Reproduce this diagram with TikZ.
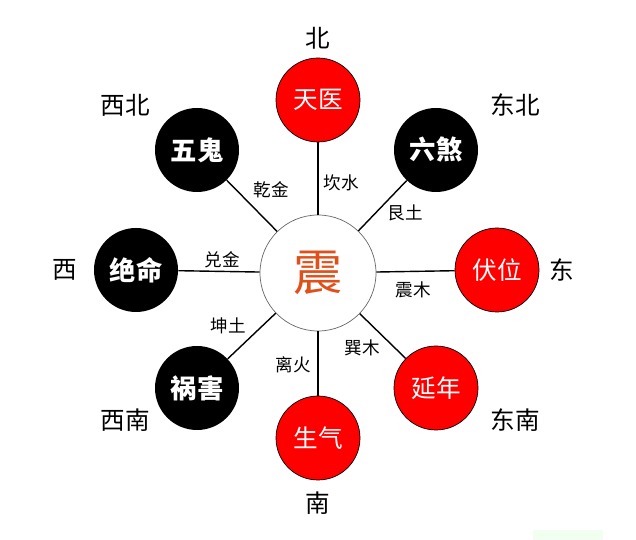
\documentclass[tikz,border=0pt]{standalone}
\usepackage{fontspec}
\newfontfamily\cjk{Noto Sans CJK SC}
\newfontfamily\cjkb{Noto Sans CJK SC Black}
\definecolor{zhenred}{HTML}{E0501A}
\definecolor{gua}{HTML}{FF0000}
\tikzset{
  redgua/.style={circle, draw=black, fill=gua, minimum size=84*0.02cm, inner sep=0pt, text=white, font=\cjk\fontsize{14}{14}\selectfont},
  blackgua/.style={circle, fill=black, minimum size=84*0.02cm, inner sep=0pt, text=white, font=\cjk\bfseries\fontsize{15}{15}\selectfont},
  dirlabel/.style={font=\cjk\fontsize{14}{14}\selectfont},
  edgelabel/.style={font=\cjk\fontsize{10}{10}\selectfont},
}
\begin{document}
\begin{tikzpicture}[x=0.02cm,y=-0.02cm]
  \useasboundingbox (0,0) rectangle (636,540);
  \fill[green!6] (533,530) rectangle (603,540);

  % centre
  \node[circle, draw=black!60, minimum size=116*0.02cm, inner sep=0pt, text=zhenred,
        font=\cjk\fontsize{28}{28}\selectfont] (zhen) at (318,273) {震};

  % the eight gua
  \node[redgua] (tianyi) at (318,100) {天医};
  \node[blackgua] (liusha) at (436,150) {六煞};
  \node[redgua] (fuwei) at (497,270) {伏位};
  \node[redgua] (yannian) at (436,388) {延年};
  \node[redgua] (shengqi) at (318,438) {生气};
  \node[blackgua] (huohai) at (197,388) {祸害};
  \node[blackgua] (jueming) at (136,270) {绝命};
  \node[blackgua] (wugui) at (197,150) {五鬼};

  \foreach \g in {tianyi,liusha,fuwei,yannian,shengqi,huohai,jueming,wugui}
    \draw[thick] (zhen) -- (\g);

  % directions
  \node[dirlabel] (bei) at (318,38) {北};
  \node[dirlabel] (dongbei) at (515,105) {东北};
  \node[dirlabel] (dong) at (562,270) {东};
  \node[dirlabel] (dongnan) at (515,420) {东南};
  \node[dirlabel] (nan) at (318,503) {南};
  \node[dirlabel] (xinan) at (125,420) {西南};
  \node[dirlabel] (xi) at (65,270) {西};
  \node[dirlabel] (xibei) at (125,105) {西北};

  % trigram labels
  \node[edgelabel] (kan) at (341,183) {坎水};
  \node[edgelabel] (gen) at (405,213) {艮土};
  \node[edgelabel] (zhenmu) at (413,290) {震木};
  \node[edgelabel] (xun) at (362,348) {巽木};
  \node[edgelabel] (li) at (293,365) {离火};
  \node[edgelabel] (kun) at (228,326) {坤土};
  \node[edgelabel] (dui) at (222,260) {兑金};
  \node[edgelabel] (qian) at (271,190) {乾金};
\end{tikzpicture}
\end{document}
